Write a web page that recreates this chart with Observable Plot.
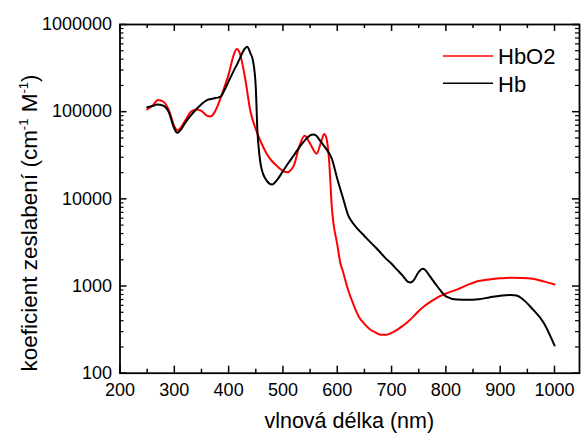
<!DOCTYPE html>
<html><head><meta charset="utf-8">
<script src="https://cdn.jsdelivr.net/npm/d3@7"></script>
<script src="https://cdn.jsdelivr.net/npm/@observablehq/plot@0.6"></script>
<style>body{margin:0;background:#fff} svg{display:block}</style>
</head><body><div id="chart"></div>
<script>
const seriesNames = ["HbO2", "Hb"];
const seriesColors = ["#ff0000", "#000000"];
const hbo2Wavelength = [250,260,270,280,290,300,306,310,320,330,340,350,360,366,372,380,390,400,410,415,420,430,440,450,460,470,480,490,500,508,515,520,530,540,550,562,570,576,580,585,590,600,606,610,620,630,640,650,660,670,680,690,700,710,720,730,740,750,760,770,780,790,800,820,840,860,880,900,920,940,960,980,1000];
const hbo2Values = [106000,118000,136000,130000,104000,68000,61000,63500,79000,99000,106000,102000,90000,88000,94000,118000,175000,268000,460000,525000,480000,250000,102000,63000,44000,33000,27000,23500,21000,20200,21500,24000,40000,53000,43000,33000,44500,55500,50000,27500,8000,3000,1800,1500,900,610,442,368,320,294,277,276,290,314,348,390,446,518,586,650,710,770,820,910,1030,1140,1190,1225,1245,1240,1210,1130,1040];
const hbWavelength = [250,260,268,280,290,300,305,310,320,330,340,350,360,370,380,386,392,400,410,416,420,430,434,440,445,450,453,456,460,470,480,490,500,510,520,530,540,550,556,560,570,580,590,600,610,620,630,640,650,660,670,680,690,700,710,720,730,735,740,750,757,762,770,780,790,800,820,840,860,880,900,920,930,940,960,980,1000];
const hbValues = [112700,116000,121000,117000,98000,64000,57300,60000,74500,90000,106000,122000,136000,141000,145000,150000,175000,223000,300000,354000,400000,530000,555000,470000,380000,190000,60000,35000,23000,16200,14600,16700,20800,25800,31600,39000,46600,53400,54800,53800,45000,37000,29000,17000,10500,6500,5150,4350,3750,3230,2800,2400,2050,1800,1540,1325,1120,1100,1150,1450,1580,1530,1310,1075,890,760,700,695,705,740,775,790,780,720,540,380,208];
const xMajorTicks = [200,300,400,500,600,700,800,900,1000];
const xMinorTicks = [250,350,450,550,650,750,850,950];
const yMajorTicks = [100,1000,10000,100000,1000000];
const yMinorTicks = [200,300,400,500,600,700,800,900,2000,3000,4000,5000,6000,7000,8000,9000,20000,30000,40000,50000,60000,70000,80000,90000,200000,300000,400000,500000,600000,700000,800000,900000];
const xLabel = "vlnová délka (nm)";
const yLabelParts = ["koeficient zeslabení (cm", "-1", " M", "-1", ")"];

const hbo2 = hbo2Wavelength.map((w, i) => ({w, v: hbo2Values[i]}));
const hb = hbWavelength.map((w, i) => ({w, v: hbValues[i]}));

const W = 581, H = 434, mL = 119.5, mR = 2, mT = 24, mB = 61.3;
const pw = W - mL - mR, ph = H - mT - mB;
const font = "'Liberation Sans', Arial, sans-serif";

const plot = Plot.plot({
  width: W, height: H,
  marginLeft: mL, marginRight: mR, marginTop: mT, marginBottom: mB,
  style: {fontFamily: font, fontSize: "18px", background: "white", color: "black", overflow: "visible"},
  x: {domain: [200, 1046]},
  y: {type: "log", domain: [100, 1000000]},
  marks: [
    Plot.line(hbo2, {x: "w", y: "v", stroke: seriesColors[0], strokeWidth: 2, curve: "monotone-x"}),
    Plot.line(hb, {x: "w", y: "v", stroke: seriesColors[1], strokeWidth: 2, curve: "monotone-x"}),
    Plot.tickX(xMajorTicks, {x: d => d, insetTop: ph - 7, stroke: "black", strokeWidth: 1.5}),
    Plot.tickX(xMajorTicks, {x: d => d, insetBottom: ph - 7, stroke: "black", strokeWidth: 1.5}),
    Plot.tickX(xMinorTicks, {x: d => d, insetTop: ph - 4, stroke: "black", strokeWidth: 1.5}),
    Plot.tickX(xMinorTicks, {x: d => d, insetBottom: ph - 4, stroke: "black", strokeWidth: 1.5}),
    Plot.tickY(yMajorTicks, {y: d => d, insetRight: pw - 7, stroke: "black", strokeWidth: 1.5}),
    Plot.tickY(yMajorTicks, {y: d => d, insetLeft: pw - 7, stroke: "black", strokeWidth: 1.5}),
    Plot.tickY(yMinorTicks, {y: d => d, insetRight: pw - 4, stroke: "black", strokeWidth: 1.2}),
    Plot.tickY(yMinorTicks, {y: d => d, insetLeft: pw - 4, stroke: "black", strokeWidth: 1.2}),
    Plot.axisX({ticks: xMajorTicks, tickSize: 0, tickPadding: 10, label: null, fontSize: 18, tickFormat: d3.format("d")}),
    Plot.axisY({ticks: yMajorTicks, tickSize: 0, tickPadding: 8, label: null, fontSize: 18, tickFormat: d3.format("d")}),
    Plot.frame({stroke: "black", strokeWidth: 1.8})
  ]
});

const svg = d3.select(plot);
// x axis title
svg.append("text").attr("x", mL + pw / 2).attr("y", 428)
  .attr("text-anchor", "middle").attr("font-family", font).attr("font-size", 21.5)
  .attr("fill", "black").text(xLabel);
// y axis title with superscripts
const yt = svg.append("text").attr("transform", "translate(37,223) rotate(-90)")
  .attr("text-anchor", "middle").attr("font-family", font).attr("font-size", 22.5).attr("fill", "black");
yLabelParts.forEach((p, i) => {
  const sup = i === 1 || i === 3;
  const t = yt.append("tspan").text(p);
  if (sup) t.attr("font-size", 13).attr("dy", -9);
  else if (i > 0) t.attr("dy", 9);
});
// legend
const leg = svg.append("g").attr("font-family", font).attr("font-size", 22).attr("text-anchor", "start");
seriesNames.forEach((name, i) => {
  const y = 56 + i * 27.3;
  leg.append("line").attr("x1", 443).attr("x2", 493).attr("y1", y).attr("y2", y)
    .attr("stroke", seriesColors[i]).attr("stroke-width", 1.6);
  leg.append("text").attr("x", 498).attr("y", y + 8.3).attr("fill", "black").text(name);
});

document.getElementById("chart").appendChild(plot);
</script>
</body></html>
